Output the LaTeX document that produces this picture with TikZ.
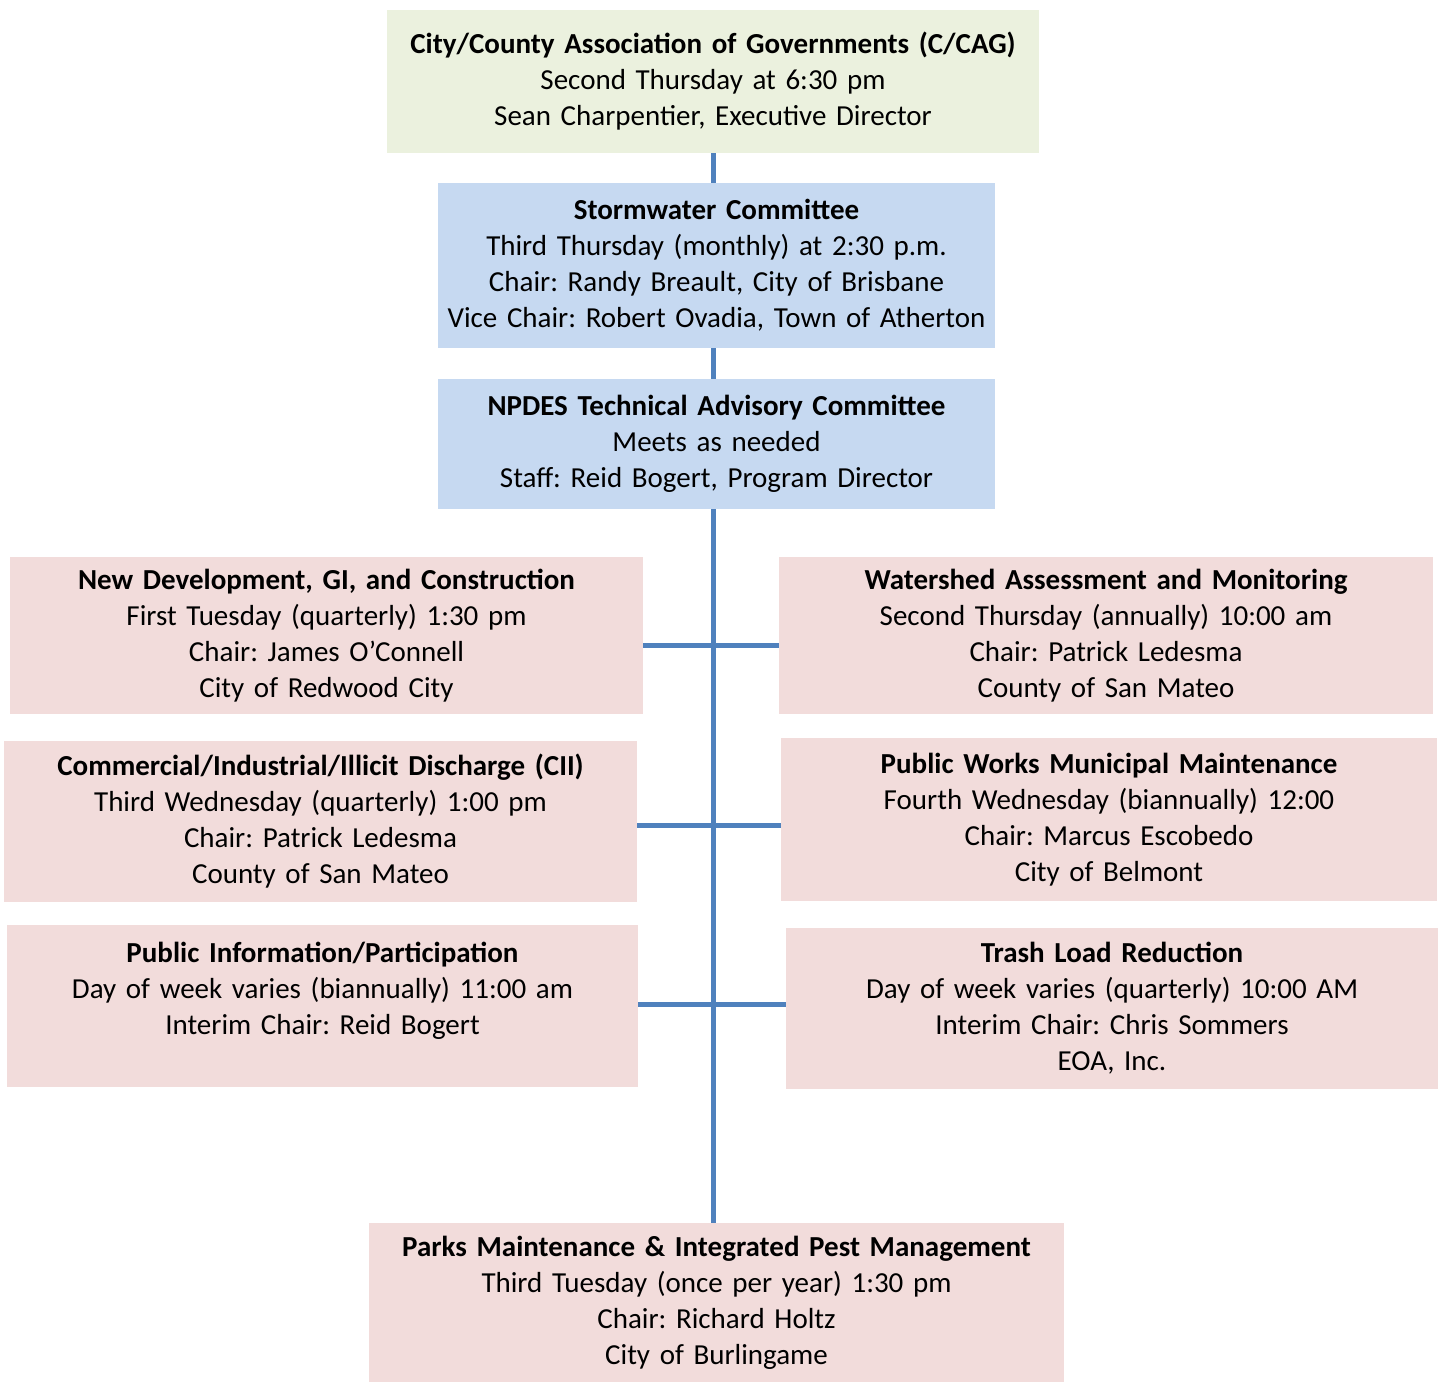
\documentclass[tikz,border=0pt]{standalone}
\usepackage{fontspec}
\setmainfont{Carlito}
\usetikzlibrary{positioning}
\definecolor{cagfill}{HTML}{EBF1DE}
\definecolor{comfill}{HTML}{C6D9F1}
\definecolor{subfill}{HTML}{F2DCDB}
\definecolor{linkblue}{HTML}{4F81BD}
\frenchspacing
\begin{document}
\begin{tikzpicture}[
            block/.style={rectangle, inner sep=0pt, align=center, font=\fontsize{16.5}{20.5}\selectfont},
            cagblock/.style={block, fill=cagfill},
            comblock/.style={block, fill=comfill},
            subblock/.style={block, fill=subfill},
            link/.style={draw=linkblue, line width=0.1cm}
        ]

        \useasboundingbox (0,0) rectangle (28.8,-27.66);

        % top of the chart
        \node[cagblock, minimum width=13.04cm, minimum height=2.86cm, text width=13.04cm] (cag) at (14.26,-1.63)
            {\textbf{City/County Association of Governments (C/CAG)}\\Second Thursday at 6:30 pm\\Sean Charpentier, Executive Director};
        \node[comblock, minimum width=11.14cm, minimum height=3.30cm, text width=11.14cm] (storm) at (14.33,-5.31)
            {\textbf{Stormwater Committee}\\Third Thursday (monthly) at 2:30 p.m.\\Chair: Randy Breault, City of Brisbane\\Vice Chair: Robert Ovadia, Town of Atherton};
        \node[comblock, minimum width=11.14cm, minimum height=2.60cm, text width=11.14cm] (tac) at (14.33,-8.88)
            {\textbf{NPDES Technical Advisory Committee}\\Meets as needed\\Staff: Reid Bogert, Program Director};

        % subcommittees
        \node[subblock, minimum width=12.66cm, minimum height=3.14cm, text width=12.66cm] (newdev) at (6.53,-12.71)
            {\textbf{New Development, GI, and Construction}\\First Tuesday (quarterly) 1:30 pm\\Chair: James O’Connell\\City of Redwood City};
        \node[subblock, minimum width=13.08cm, minimum height=3.14cm, text width=13.08cm] (watershed) at (22.12,-12.71)
            {\textbf{Watershed Assessment and Monitoring}\\Second Thursday (annually) 10:00 am\\Chair: Patrick Ledesma\\County of San Mateo};
        \node[subblock, minimum width=12.66cm, minimum height=3.22cm, text width=12.66cm] (cii) at (6.41,-16.43)
            {\textbf{Commercial/Industrial/Illicit Discharge (CII)}\\Third Wednesday (quarterly) 1:00 pm\\Chair: Patrick Ledesma\\County of San Mateo};
        \node[subblock, minimum width=13.12cm, minimum height=3.26cm, text width=13.12cm] (pw) at (22.18,-16.39)
            {\textbf{Public Works Municipal Maintenance}\\Fourth Wednesday (biannually) 12:00\\Chair: Marcus Escobedo\\City of Belmont};
        \node[subblock, minimum width=12.62cm, minimum height=3.24cm, text width=12.62cm] (pip) at (6.45,-20.12)
            {\textbf{Public Information/Participation}\\Day of week varies (biannually) 11:00 am\\Interim Chair: Reid Bogert\\\mbox{}};
        \node[subblock, minimum width=13.04cm, minimum height=3.22cm, text width=13.04cm] (trash) at (22.24,-20.17)
            {\textbf{Trash Load Reduction}\\Day of week varies (quarterly) 10:00 AM\\Interim Chair: Chris Sommers\\EOA, Inc.};
        \node[subblock, minimum width=13.90cm, minimum height=3.18cm, text width=13.90cm] (parks) at (14.33,-26.05)
            {\textbf{Parks Maintenance \& Integrated Pest Management}\\Third Tuesday (once per year) 1:30 pm\\Chair: Richard Holtz\\City of Burlingame};

        % trunk
        \draw[link] (cag.south) -- (cag.south |- storm.north);
        \draw[link] (cag.south |- storm.south) -- (cag.south |- tac.north);
        \draw[link] (cag.south |- tac.south) -- (cag.south |- parks.north);

        % branches
        \draw[link] ([yshift=-0.19cm]newdev.east) -- ([yshift=-0.19cm]newdev.east -| watershed.west);
        \draw[link] ([yshift=-0.07cm]cii.east) -- ([yshift=-0.07cm]cii.east -| pw.west);
        \draw[link] ([yshift=0.04cm]pip.east) -- ([yshift=0.04cm]pip.east -| trash.west);

    \end{tikzpicture}
\end{document}
